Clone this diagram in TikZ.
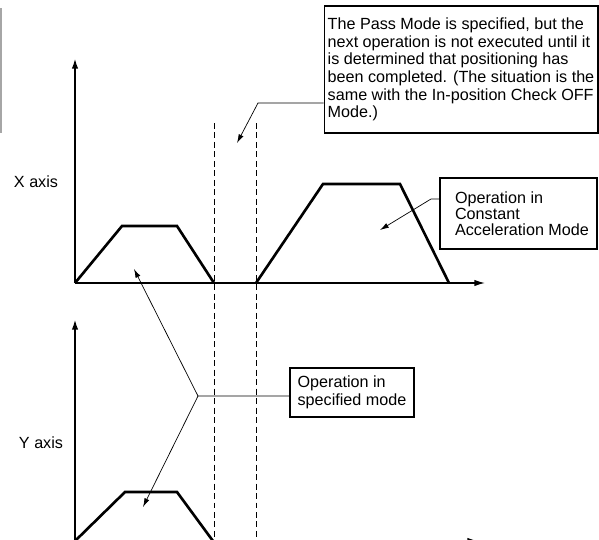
\documentclass[tikz,border=0pt]{standalone}
\usepackage{fontspec}
\setmainfont{Liberation Sans}
\usetikzlibrary{arrows.meta,positioning}

\begin{document}
\begin{tikzpicture}[
    x=0.02cm, y=-0.02cm,
    note/.style={draw, line width=0.6pt, align=left, inner sep=0pt, font=\fontsize{9.2}{10}\selectfont},
    lbl/.style={font=\fontsize{9.2}{10}\selectfont, inner sep=0pt},
    axis/.style={line width=1.1pt, -{Latex[length=6pt,width=3.6pt]}},
    base/.style={line width=0.7pt, -{Latex[length=6pt,width=3.6pt]}},
    prof/.style={line width=1.5pt, line join=miter},
    guide/.style={line width=0.5pt, dash pattern=on 3.4pt off 2pt},
    lead/.style={line width=0.4pt, -{Latex[length=5pt,width=3pt]}}
]
\useasboundingbox (0,0) rectangle (599,539);
\clip (0,0) rectangle (599,539);

% margin bar
\draw[gray!70, line width=0.6pt] (1,8) -- (1,133);

% axes
\coordinate (ox) at (75,283);
\coordinate (oy) at (75,541);
\draw[axis] (75,283) -- (75,58);
\draw[base] (ox) -- (485,283);
\draw[axis] (75,545) -- (75,319);
\draw[base] (oy) -- (478,541);
\node[lbl] (xlab) at (36,182) {X axis};
\node[lbl] (ylab) at (41,443) {Y axis};

% dashed guides
\draw[guide] (214,123) -- (214,545);
\draw[guide] (256,123) -- (256,545);

% speed profiles
\draw[prof] (ox) -- (122,226) -- (177,226) -- (214,283);
\draw[prof] (256,283) -- (323,184) -- (400,184) -- (449,283);
\draw[prof] (oy) -- (125,492) -- (177,492) -- (213,541);

% notes
\node[note, minimum width=5.48cm, minimum height=2.54cm] (pass) at (461,69.5)
  {The Pass Mode is specified, but the\\
   next operation is not executed until it\\
   is determined that positioning has\\
   been completed. (The situation is the\\
   same with the In-position Check OFF\\
   Mode.)};
\node[note, minimum width=3.14cm, minimum height=1.42cm,
      font=\fontsize{9.2}{9}\selectfont] (cam) at (518.5,213.5)
  {\hspace*{0.14cm}Operation in\\ \hspace*{0.14cm}Constant\\ \hspace*{0.14cm}Acceleration Mode};
\node[note, line width=0.9pt, minimum width=2.48cm, minimum height=0.98cm] (spec) at (352,392.5)
  {Operation in\\ specified mode};

% leaders
\coordinate (k1) at (258,103);
\coordinate (t1) at (237,143);
\draw[lead] (pass.west |- k1) -- (k1) -- (t1);
\coordinate (k2) at (431,199);
\coordinate (t2) at (380,230);
\draw[lead] (cam.west |- k2) -- (k2) -- (t2);
\coordinate (k3) at (198,396);
\coordinate (t3) at (134,269);
\coordinate (t4) at (143,507);
\draw[lead] (spec.west |- k3) -- (k3) -- (t3);
\draw[lead] (k3) -- (t4);
\end{tikzpicture}
\end{document}
